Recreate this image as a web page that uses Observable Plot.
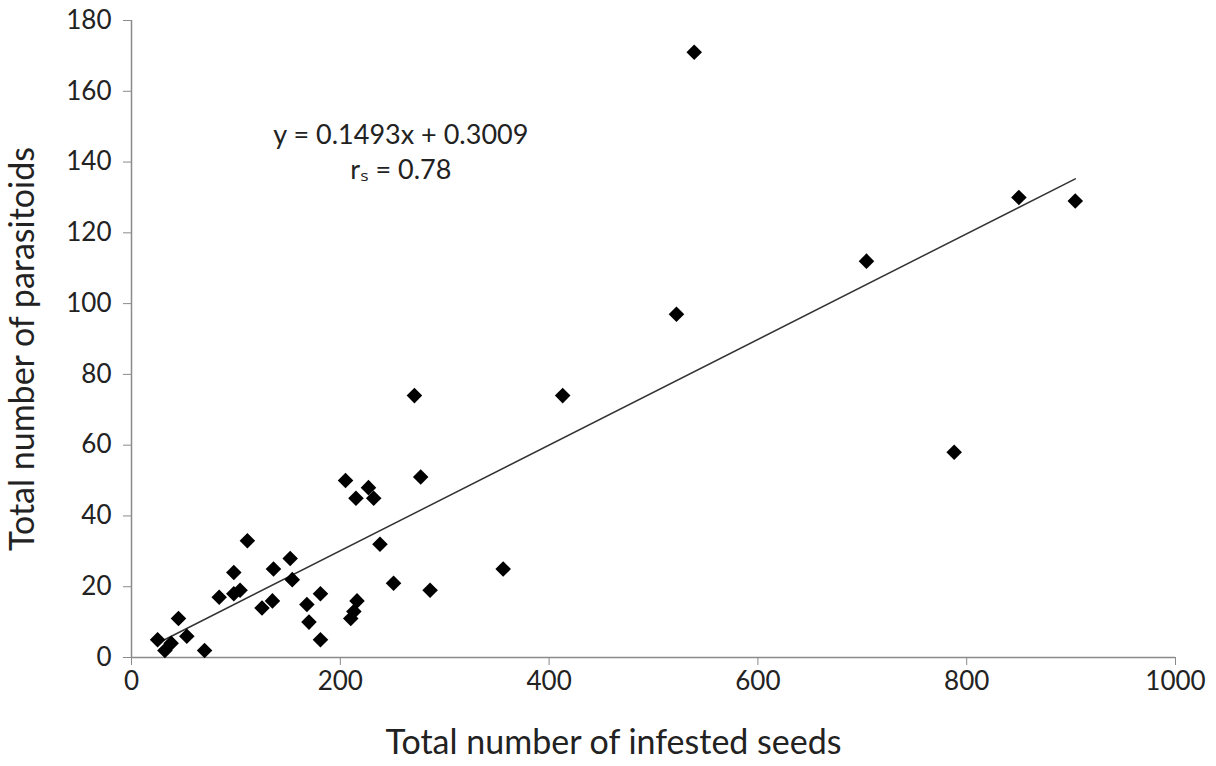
<!DOCTYPE html>
<html>
<head>
<meta charset="utf-8">
<script src="https://cdn.jsdelivr.net/npm/d3@7"></script>
<script src="https://cdn.jsdelivr.net/npm/@observablehq/plot@0.6"></script>
<style>
  html, body { margin: 0; padding: 0; background: #fff; }
  #chart { width: 1216px; height: 766px; }
  #chart svg g[aria-label="x-axis label"] text,
  #chart svg g[aria-label="y-axis label"] text,
  #chart svg g[aria-label="x-axis label"],
  #chart svg g[aria-label="y-axis label"] { font-size: 34px; }
</style>
</head>
<body>
<div id="chart"></div>
<script>
// Total number of infested seeds (x) and total number of parasitoids (y)
const seeds = [539, 850, 904, 704, 522, 271, 413, 788, 277, 205,
               227, 215, 232, 111, 238, 152, 136, 98, 356, 154,
               251, 286, 98, 104, 84, 181, 135, 216, 168, 125,
               213, 210, 170, 45, 53, 25, 181, 38, 32, 70];
const parasitoids = [171, 130, 129, 112, 97, 74, 74, 58, 51, 50,
                     48, 45, 45, 33, 32, 28, 25, 24, 25, 22,
                     21, 19, 18, 19, 17, 18, 16, 16, 15, 14,
                     13, 11, 10, 11, 6, 5, 5, 4, 2, 2];
// Fitted trend line reported on the chart
const slope = 0.1493;
const intercept = 0.3009;
// Annotation text and its anchor in data units
const annoText = ["y = 0.1493x + 0.3009", "rₛ = 0.78"];
const annoX = [258, 258];
const annoY = [147.5, 137.6];
// Axis ticks
const xTicks = [0, 200, 400, 600, 800, 1000];
const yTicks = [0, 20, 40, 60, 80, 100, 120, 140, 160, 180];

const points = seeds.map((s, i) => ({x: s, y: parasitoids[i]}));
const [xmin, xmax] = d3.extent(seeds);
const trend = [xmin, xmax].map(x => ({x, y: slope * x + intercept}));
const annos = annoText.map((t, i) => ({t, x: annoX[i], y: annoY[i]}));

const FONT = "Lato, 'Open Sans', sans-serif";
const AXIS = "#8a8a8a";

const plot = Plot.plot({
  width: 1216,
  height: 766,
  marginLeft: 131,
  marginRight: 41,
  marginTop: 20,
  marginBottom: 109,
  style: {fontFamily: FONT, fontSize: "26px", color: "#222", background: "#fff"},
  x: {domain: [0, 1000]},
  y: {domain: [0, 180]},
  marks: [
    Plot.ruleX([0], {stroke: AXIS, strokeWidth: 1.5}),
    Plot.ruleY([0], {stroke: AXIS, strokeWidth: 1.5}),
    Plot.axisX({
      ticks: xTicks, tickFormat: d => String(d), tickSize: 8, tickPadding: 6, stroke: AXIS,
      fontSize: 26, fill: "#222",
      label: "Total number of infested seeds", labelAnchor: "center",
      labelArrow: "none", labelOffset: 96
    }),
    Plot.axisY({
      ticks: yTicks, tickFormat: d => String(d), tickSize: 8, tickPadding: 12, stroke: AXIS,
      fontSize: 26, fill: "#222",
      label: "Total number of parasitoids", labelAnchor: "center",
      labelArrow: "none", labelOffset: 122
    }),
    Plot.line(trend, {x: "x", y: "y", stroke: "#333", strokeWidth: 1.5}),
    Plot.dot(points, {x: "x", y: "y", symbol: "diamond2", r: 7, fill: "#000", stroke: "none"}),
    Plot.text(annos, {x: "x", y: "y", text: "t", fontSize: 27, fill: "#222", textAnchor: "middle"})
  ]
});
// Nudge the axis titles to match the reference placement
function nudge(label, dx, dy) {
  const g = plot.querySelector(`g[aria-label="${label}"]`);
  if (!g) return;
  const wrap = document.createElementNS("http://www.w3.org/2000/svg", "g");
  wrap.setAttribute("transform", `translate(${dx},${dy})`);
  g.parentNode.insertBefore(wrap, g);
  wrap.appendChild(g);
}
nudge("x-axis label", -40, 0);
nudge("y-axis label", 0, 10);
document.getElementById("chart").appendChild(plot);
</script>
</body>
</html>
